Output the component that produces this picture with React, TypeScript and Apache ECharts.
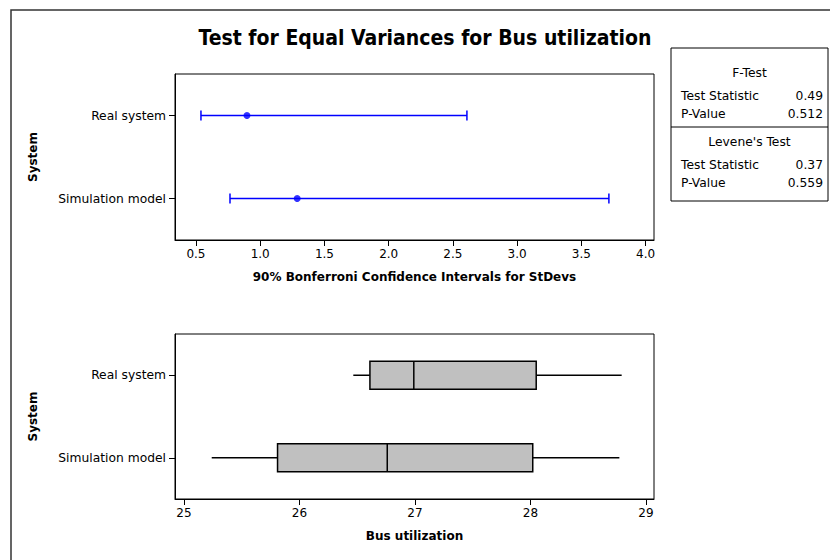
import React, { useEffect, useRef } from 'react';
import * as echarts from 'echarts';

// Categories (bottom to top on the y axis)
const systems = ['Simulation model', 'Real system'];

// 90% Bonferroni confidence intervals for StDevs
const ciLower = [0.765, 0.539];
const ciSigma = [1.288, 0.897];
const ciUpper = [3.714, 2.609];
const ciTicks = [0.5, 1.0, 1.5, 2.0, 2.5, 3.0, 3.5, 4.0];

// Box plots of Bus utilization
const boxMin = [25.24, 26.466];
const boxQ1 = [25.81, 26.61];
const boxMedian = [26.76, 26.99];
const boxQ3 = [28.02, 28.05];
const boxMax = [28.77, 28.79];
const utilTicks = [25, 26, 27, 28, 29];

// Test results
const statNames = ['Test Statistic', 'P-Value'];
const fTestValues = ['0.49', '0.512'];
const leveneValues = ['0.37', '0.559'];

const FONT = 'DejaVu Sans';
const TITLE_FONT = "'DejaVu Sans Condensed', 'Liberation Sans Narrow', 'DejaVu Sans'";

export default function App() {
  const ref = useRef<HTMLDivElement>(null);

  useEffect(() => {
    if (!ref.current) return;
    const chart = echarts.init(ref.current, undefined, { renderer: 'svg' });

    const ciData = systems.map((_, i) => [ciLower[i], ciUpper[i], i]);
    const sigmaData = systems.map((_, i) => [ciSigma[i], i]);
    const boxData = systems.map((_, i) => [boxMin[i], boxQ1[i], boxMedian[i], boxQ3[i], boxMax[i], i]);

    const xAxisCommon = (ticks: number[], fmt: (v: number) => string) => ({
      type: 'value' as const,
      splitLine: { show: false },
      axisLine: { show: true, onZero: false, lineStyle: { color: '#000', width: 1 } },
      axisTick: { show: true, length: 6, customValues: ticks, lineStyle: { color: '#000' } },
      axisLabel: {
        customValues: ticks,
        formatter: (v: number) => fmt(v),
        color: '#000',
        fontFamily: FONT,
        fontSize: 12,
        margin: 8,
      },
      nameLocation: 'middle' as const,
      nameTextStyle: { color: '#000', fontFamily: FONT, fontWeight: 'bold' as const, fontSize: 12 },
    });

    const yAxisCommon = {
      type: 'category' as const,
      data: systems,
      axisLine: { show: true, lineStyle: { color: '#000', width: 1 } },
      axisTick: { show: true, length: 6, alignWithLabel: true, lineStyle: { color: '#000' } },
      axisLabel: { color: '#000', fontFamily: FONT, fontSize: 12.3, margin: 9 },
      splitLine: { show: false },
      name: 'System',
      nameLocation: 'middle' as const,
      nameGap: 136,
      nameTextStyle: { color: '#000', fontFamily: FONT, fontWeight: 'bold' as const, fontSize: 12 },
    };

    const tableX = 671;
    const tableW = 157;
    const tableTexts: any[] = [];
    const left = tableX + 10;
    const right = tableX + tableW - 5;
    const tf = `12.3px ${FONT}`;
    tableTexts.push({ type: 'text', x: tableX + tableW / 2, y: 73, style: { text: 'F-Test', align: 'center', verticalAlign: 'middle', font: tf, fill: '#000' } });
    statNames.forEach((n, i) => {
      tableTexts.push({ type: 'text', x: left, y: 96 + i * 18, style: { text: n, align: 'left', verticalAlign: 'middle', font: tf, fill: '#000' } });
      tableTexts.push({ type: 'text', x: right, y: 96 + i * 18, style: { text: fTestValues[i], align: 'right', verticalAlign: 'middle', font: tf, fill: '#000' } });
    });
    tableTexts.push({ type: 'text', x: tableX + tableW / 2, y: 142, style: { text: "Levene's Test", align: 'center', verticalAlign: 'middle', font: tf, fill: '#000' } });
    statNames.forEach((n, i) => {
      tableTexts.push({ type: 'text', x: left, y: 165 + i * 18, style: { text: n, align: 'left', verticalAlign: 'middle', font: tf, fill: '#000' } });
      tableTexts.push({ type: 'text', x: right, y: 165 + i * 18, style: { text: leveneValues[i], align: 'right', verticalAlign: 'middle', font: tf, fill: '#000' } });
    });

    chart.setOption({
      animation: false,
      backgroundColor: '#fff',
      title: {
        text: 'Test for Equal Variances for Bus utilization',
        left: 420,
        top: 22,
        textAlign: 'center',
        textStyle: { fontFamily: TITLE_FONT, fontWeight: 'bold', fontSize: 21, color: '#000' },
      },
      graphic: [
        { type: 'rect', shape: { x: 11, y: 10, width: 1000, height: 1000 }, style: { fill: 'none', stroke: '#333', lineWidth: 1.5 }, silent: true },
        { type: 'rect', shape: { x: tableX, y: 48, width: tableW, height: 153 }, style: { fill: '#fff', stroke: '#000', lineWidth: 1 }, silent: true },
        { type: 'line', shape: { x1: tableX, y1: 127, x2: tableX + tableW, y2: 127 }, style: { stroke: '#000', lineWidth: 1 }, silent: true },
        ...tableTexts,
      ],
      grid: [
        { left: 175, top: 74, width: 479, height: 166, show: true, borderColor: '#000', borderWidth: 1, containLabel: false },
        { left: 175, top: 334, width: 479, height: 165, show: true, borderColor: '#000', borderWidth: 1, containLabel: false },
      ],
      xAxis: [
        {
          ...xAxisCommon(ciTicks, (v) => v.toFixed(1)),
          gridIndex: 0,
          min: 0.337,
          max: 4.065,
          name: '90% Bonferroni Confidence Intervals for StDevs',
          nameGap: 31,
        },
        {
          ...xAxisCommon(utilTicks, (v) => String(v)),
          gridIndex: 1,
          min: 24.922,
          max: 29.07,
          name: 'Bus utilization',
          nameGap: 31,
        },
      ],
      yAxis: [
        { ...yAxisCommon, gridIndex: 0 },
        { ...yAxisCommon, gridIndex: 1 },
      ],
      series: [
        {
          type: 'custom',
          xAxisIndex: 0,
          yAxisIndex: 0,
          encode: { x: [0, 1], y: 2 },
          data: ciData,
          renderItem: (params: any, api: any) => {
            const y = api.value(2);
            const lo = api.coord([api.value(0), y]);
            const hi = api.coord([api.value(1), y]);
            const h = 5;
            const st = { stroke: '#0000ff', lineWidth: 1.5 };
            return {
              type: 'group',
              children: [
                { type: 'line', shape: { x1: lo[0], y1: lo[1], x2: hi[0], y2: hi[1] }, style: st },
                { type: 'line', shape: { x1: lo[0], y1: lo[1] - h, x2: lo[0], y2: lo[1] + h }, style: st },
                { type: 'line', shape: { x1: hi[0], y1: hi[1] - h, x2: hi[0], y2: hi[1] + h }, style: st },
              ],
            };
          },
        },
        {
          type: 'scatter',
          xAxisIndex: 0,
          yAxisIndex: 0,
          data: sigmaData,
          symbol: 'circle',
          symbolSize: 7,
          itemStyle: { color: '#0000ff' },
        },
        {
          type: 'custom',
          xAxisIndex: 1,
          yAxisIndex: 1,
          encode: { x: [0, 1, 2, 3, 4], y: 5 },
          data: boxData,
          renderItem: (params: any, api: any) => {
            const y = api.value(5);
            const pMin = api.coord([api.value(0), y]);
            const pQ1 = api.coord([api.value(1), y]);
            const pMed = api.coord([api.value(2), y]);
            const pQ3 = api.coord([api.value(3), y]);
            const pMax = api.coord([api.value(4), y]);
            const h = 14;
            const st = { stroke: '#000', lineWidth: 1.5 };
            return {
              type: 'group',
              children: [
                { type: 'line', shape: { x1: pMin[0], y1: pMin[1], x2: pQ1[0], y2: pQ1[1] }, style: st },
                { type: 'line', shape: { x1: pQ3[0], y1: pQ3[1], x2: pMax[0], y2: pMax[1] }, style: st },
                { type: 'rect', shape: { x: pQ1[0], y: pQ1[1] - h, width: pQ3[0] - pQ1[0], height: 2 * h }, style: { fill: '#c0c0c0', stroke: '#000', lineWidth: 1.5 } },
                { type: 'line', shape: { x1: pMed[0], y1: pMed[1] - h, x2: pMed[0], y2: pMed[1] + h }, style: st },
              ],
            };
          },
        },
      ],
    });

    return () => chart.dispose();
  }, []);

  return <div ref={ref} style={{ position: 'fixed', left: 0, top: 0, width: 830, height: 560 }} />;
}
